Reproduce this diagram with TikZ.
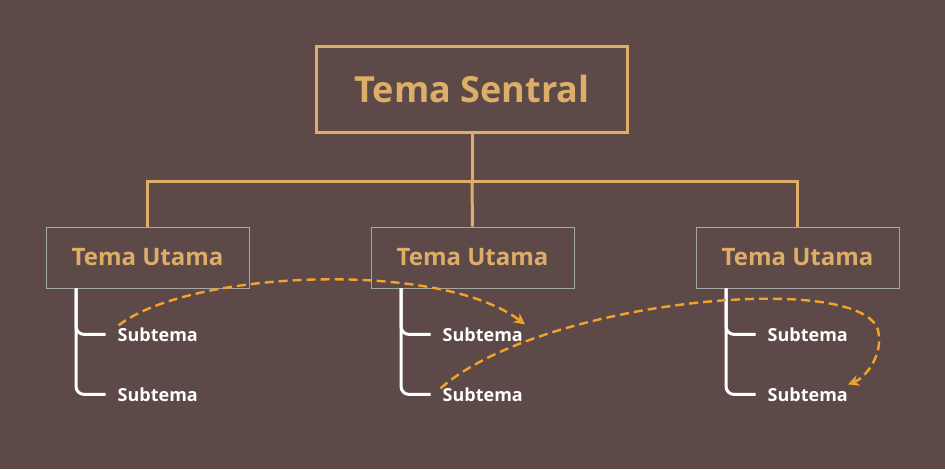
\documentclass[tikz,border=0pt]{standalone}
\usepackage{fontspec}
\setmainfont{Open Sans}
\usetikzlibrary{arrows.meta}
\definecolor{bg}{HTML}{5D4A48}
\definecolor{tan}{HTML}{DDAE6A}
\definecolor{org}{HTML}{F5A22A}
\begin{document}
\begin{tikzpicture}[x=1pt,y=-1pt,
  central/.style={draw=tan,line width=3pt,minimum width=311pt,minimum height=86pt,text=tan,font=\fontsize{36}{40}\selectfont\bfseries,inner sep=0},
  mainbox/.style={draw=gray!70!white,line width=0.8pt,minimum width=203pt,minimum height=61pt,text=tan,font=\fontsize{24}{28}\selectfont\bfseries,inner sep=0},
  sub/.style={text=white,font=\fontsize{18}{21}\selectfont\bfseries,anchor=west,inner sep=0},
  link/.style={draw=tan,line width=3pt},
  brk/.style={draw=white,line width=3pt,rounded corners=8pt},
  dashlink/.style={draw=org,line width=2.4pt,dash pattern=on 9pt off 5pt,-{Stealth[open,length=11pt,width=11pt]}}]
\fill[bg] (0,0) rectangle (945,469);
\node[central] (c) at (472,89) {Tema Sentral};
\foreach \i/\x in {1/147.5,2/472.5,3/797.5}{
  \node[mainbox] (m\i) at (\x,257.5) {Tema Utama};
  \coordinate (b\i) at ([xshift=-71.5pt]m\i.south);
  \node[sub] (s\i a) at ([xshift=41.5pt,yshift=-46pt]b\i) {Subtema};
  \node[sub] (s\i b) at ([xshift=41.5pt,yshift=-106pt]b\i) {Subtema};
  \draw[brk] (b\i) |- ([xshift=-12pt]s\i b.west);
  \draw[brk] (b\i) |- ([xshift=-12pt]s\i a.west);
}
\coordinate (j) at (472,181);
\draw[link] (c.south) -- (j);
\draw[link] (m1.north) |- (m3.north |- j) -- (m3.north);
\draw[link] (j) -- (m2.north);
\draw[dashlink] ([xshift=1pt,yshift=9pt]s1a.west) .. controls (190,270) and (440,260) .. ([xshift=2pt,yshift=10pt]s2a.east);
\draw[dashlink] ([xshift=-2pt,yshift=6pt]s2b.west) .. controls (540,300) and (860,270) .. (878,330) .. controls (884,355) and (865,378) .. ([xshift=0pt,yshift=10pt]s3b.east);
\end{tikzpicture}
\end{document}
